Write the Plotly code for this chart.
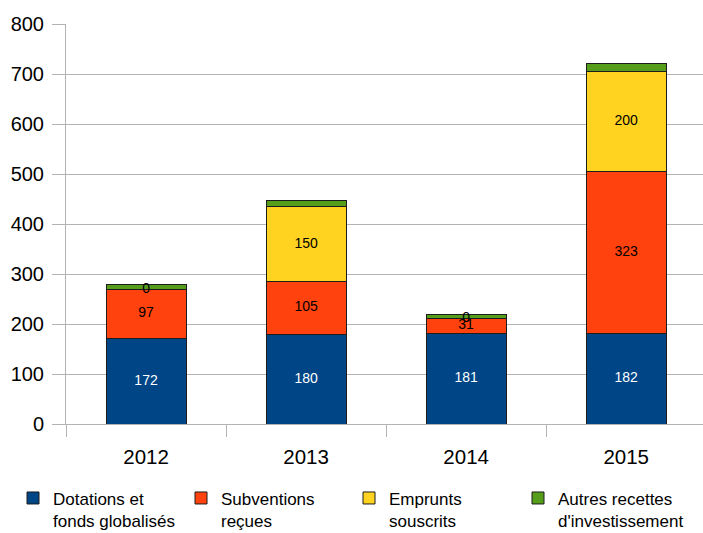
import plotly.graph_objects as go

years = ["2012", "2013", "2014", "2015"]
dotations = [172, 180, 181, 182]
subventions = [97, 105, 31, 323]
emprunts = [0, 150, 0, 200]
autres = [10, 12, 8, 16]

series_names = [
    "Dotations et<br>fonds globalisés",
    "Subventions<br>reçues",
    "Emprunts<br>souscrits",
    "Autres recettes<br>d'investissement",
]
series_values = [dotations, subventions, emprunts, autres]
colors = ["#004586", "#ff420e", "#ffd320", "#579d1c"]
label_colors = ["white", "black", "black", None]
legend_ids = ["legend", "legend2", "legend3", "legend4"]

fig = go.Figure()
for name, vals, col, lid in zip(series_names, series_values, colors, legend_ids):
    fig.add_trace(go.Bar(
        x=years, y=vals, name=name, width=0.5,
        marker=dict(color=col, line=dict(color="#1c1c1c", width=1)),
        hoverinfo="skip", legend=lid,
    ))

# data labels at segment midpoints (first three series)
base = [0] * len(years)
for vals, lc in zip(series_values, label_colors):
    mids = [b + v / 2 for b, v in zip(base, vals)]
    if lc is not None:
        fig.add_trace(go.Scatter(
            x=years, y=mids, mode="text", text=[str(v) for v in vals],
            textfont=dict(family="Liberation Sans, Arial, sans-serif", size=14, color=lc),
            showlegend=False, hoverinfo="skip", cliponaxis=False,
        ))
    base = [b + v for b, v in zip(base, vals)]

W, H = 703, 533
L, T, B = 66, 24, 108.5
PW, PH = W - L, H - T - B
fig.update_layout(
    barmode="stack",
    width=W, height=H,
    margin=dict(l=L, r=0, t=T, b=B, autoexpand=False),
    paper_bgcolor="white", plot_bgcolor="white",
    font=dict(family="Liberation Sans, Arial, sans-serif", color="black"),
    xaxis=dict(
        type="category", range=[-0.5, 3.48],
        tickson="boundaries", ticks="outside", ticklen=12, tickcolor="#b3b3b3",
        showline=True, linecolor="#b3b3b3", linewidth=1,
        showgrid=False, tickfont=dict(size=20.5), ticklabelstandoff=14,
    ),
    yaxis=dict(
        range=[0, 800], dtick=100,
        ticks="outside", ticklen=13, tickcolor="#b3b3b3",
        showline=True, linecolor="#b3b3b3", linewidth=1,
        gridcolor="#b3b3b3", gridwidth=1, zeroline=False,
        tickfont=dict(size=20), ticklabelstandoff=4,
    ),
)

legend_lefts = [13, 181, 349, 518]
for lid, left in zip(legend_ids, legend_lefts):
    fig.update_layout({lid: dict(
        orientation="v", x=(left - L) / PW, xanchor="left",
        y=-(481 - (T + PH)) / PH, yanchor="top",
        valign="top", font=dict(size=17), itemwidth=30,
        bgcolor="rgba(0,0,0,0)",
    )})

fig.write_html(
    "out.html",
    config={"displayModeBar": False},
    post_script="document.body.style.margin='0';document.body.style.overflow='hidden';",
)
